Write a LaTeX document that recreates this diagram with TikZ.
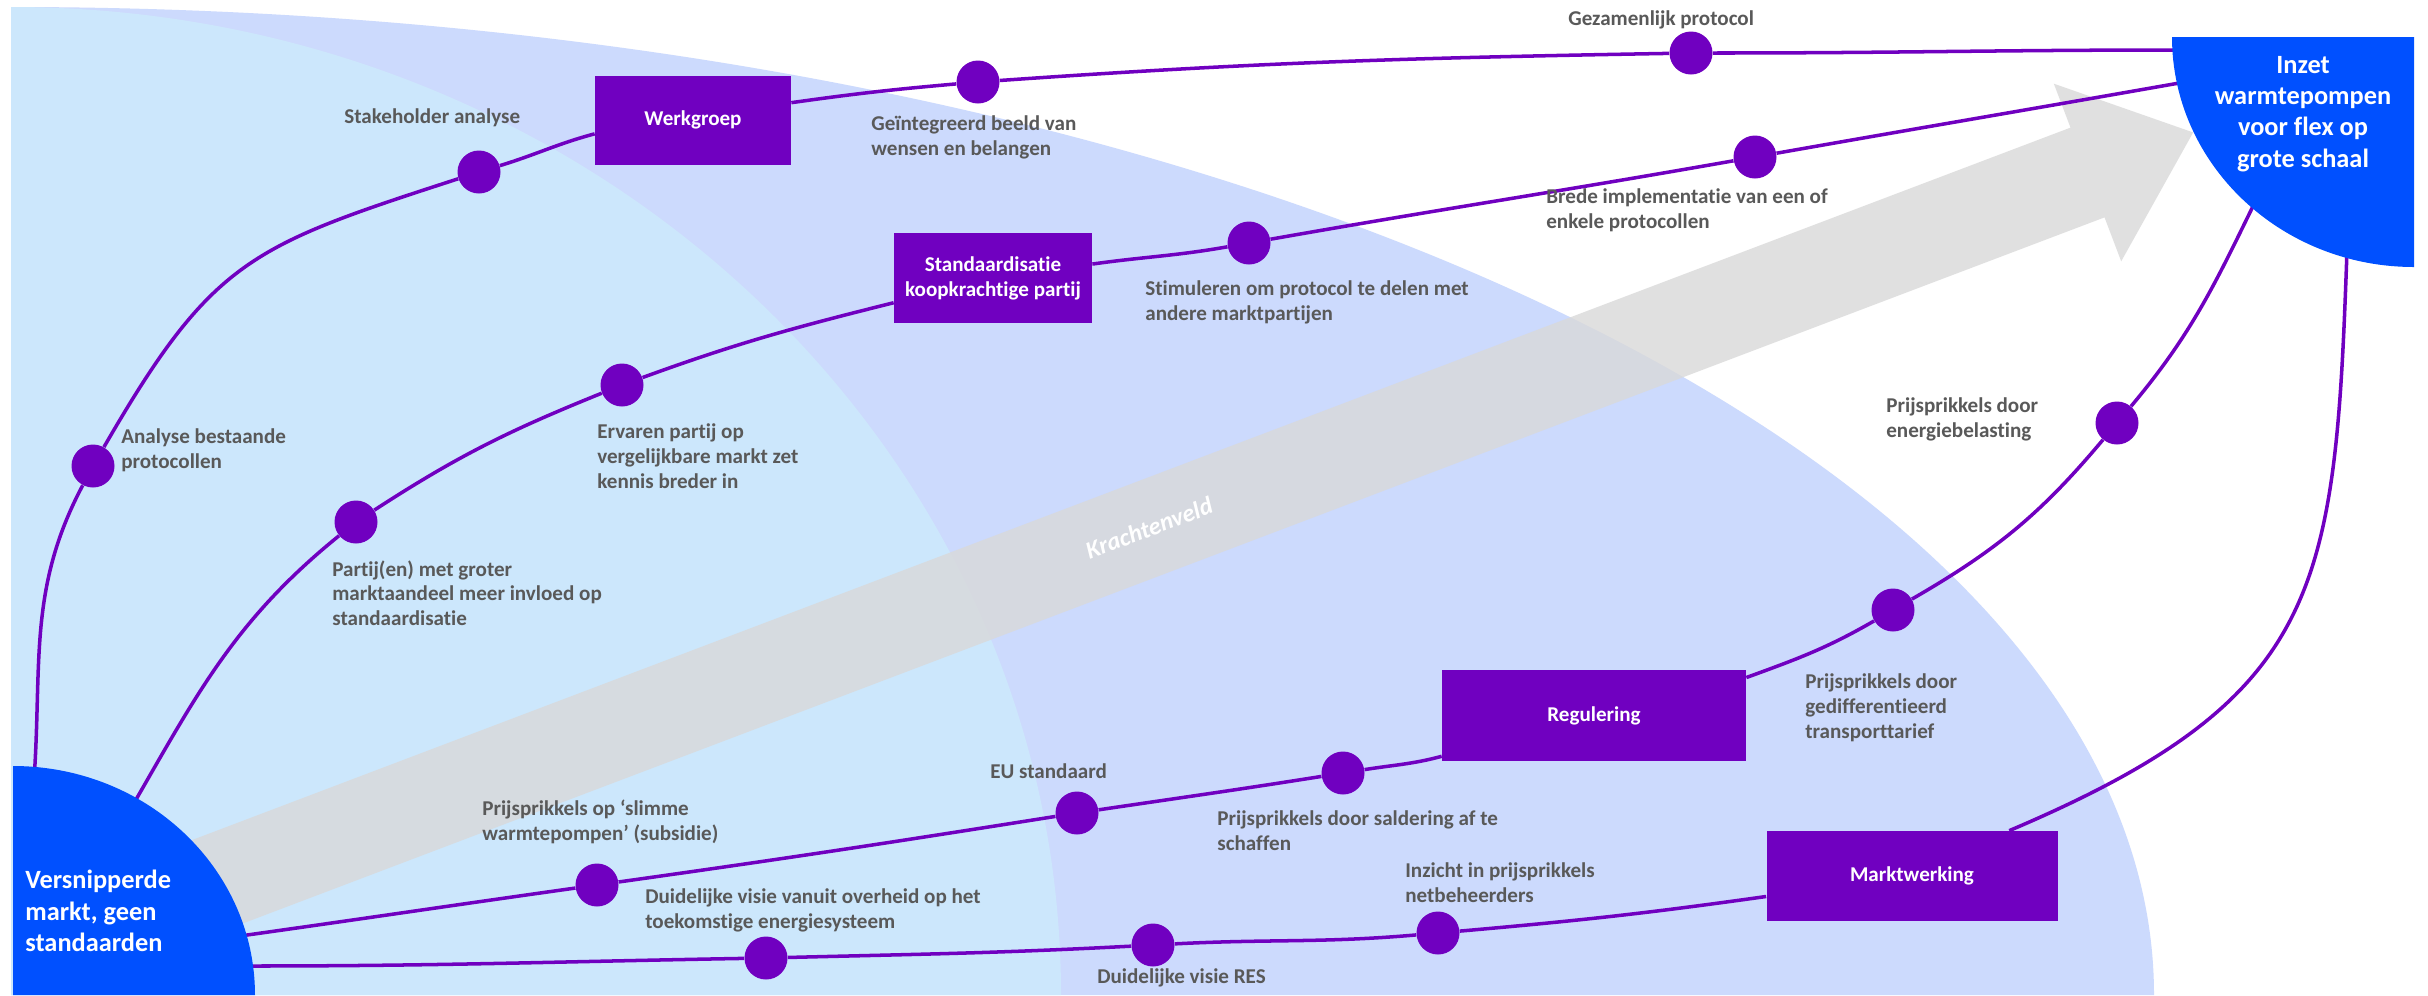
\documentclass[tikz,border=0pt]{standalone}
\usepackage{fontspec}
\setmainfont{Carlito}[Ligatures = NoCommon]
\newcommand\uitlegfont{\fontsize{12}{14.2}\selectfont\bfseries}
\newcommand\doelfont{\fontsize{15}{17.8}\selectfont\bfseries}
\tikzset{
  route/.style = {draw = paars, line width = 2pt},
  halte/.style = {circle, fill = paars, inner sep = 0, minimum size = 43*\px},
  blok/.style = {rectangle, fill = paars, text = white, font = \uitlegfont, align = center, inner sep = 0},
  uitleg/.style = {anchor = north west, inner sep = 0, align = left, text = tekstgrijs, font = \uitlegfont},
  doeltekst/.style = {inner sep = 0, align = left, text = white, font = \doelfont}
}
\begin{document}
\begin{tikzpicture}[x = 0.02cm, y = 0.02cm]
\pgfmathsetlengthmacro\px{0.02cm};
\definecolor{lichtblauw}{HTML}{CCE7FC}
\definecolor{lavendel}{HTML}{CCDAFD}
\definecolor{pijlgrijs}{HTML}{D9D9D9}
\definecolor{paars}{HTML}{7000C0}
\definecolor{doelblauw}{HTML}{0050FF}
\definecolor{tekstgrijs}{HTML}{595959}
\useasboundingbox (0,0) rectangle (2428,-995);
\fill[white] (0,0) rectangle (2428,-995);
% velden
\fill[lavendel] (11,-995) -- (11,-7) arc[start angle = 90, end angle = 0, x radius = 2143, y radius = 988] -- cycle;
\fill[lichtblauw] (11,-995) -- (11,-7) arc[start angle = 90, end angle = 0, x radius = 1050, y radius = 988] -- cycle;
% krachtenveld
\begin{scope}[shift = {(2087.5,-172.5)}, rotate = 20.77]
\fill[pijlgrijs, opacity = 0.8] (-2150,-48) -- (0,-48) -- (0,-95) -- (113,0) -- (0,95) -- (0,48) -- (-2150,48) -- cycle;
\end{scope}
\node[rotate = 20.8, text = white, font = \fontsize{14}{16}\selectfont\bfseries\itshape] (kracht) at (1149,-528) {Krachtenveld};
% eindpunten op de kwartcirkels
\coordinate (v1) at (34,-780);
\coordinate (v2) at (130,-810);
\coordinate (v3) at (240,-936);
\coordinate (v4) at (245,-966);
\coordinate (i1) at (2180,-50);
\coordinate (i2) at (2185,-82);
\coordinate (i3) at (2256,-200);
\coordinate (i4) at (2347,-250);
% blokken
\node[blok, minimum width = 196*\px, minimum height = 89*\px] (werkgroep) at (693,-120) {Werkgroep};
\node[blok, minimum width = 198*\px, minimum height = 90*\px] (stand) at (993,-278) {Standaardisatie\\koopkrachtige partij};
\node[blok, minimum width = 304*\px, minimum height = 91*\px] (regulering) at (1594,-715.5) {Regulering};
\node[blok, minimum width = 291*\px, minimum height = 90*\px] (markt) at (1912,-876) {Marktwerking};
% haltes
\foreach \naam/\x/\y in {ana/93/-466, stake/479/-172, gei/978/-82, gez/1691/-53, par/356/-522, erv/622/-385, sti/1249/-243, bre/1755/-157, sli/597/-885, eu/1077/-813, sal/1343/-773, tra/1893/-610, ene/2117/-423, vis/766/-958, res/1153/-945, inz/1438/-933}
  \node[halte] (h-\naam) at (\x,\y) {};
% routes
\draw[route] (v1) to[out = 86, in = 242] (h-ana)
  to[out = 60, in = 198, looseness = 1.25] (h-stake)
  to[out = 17, in = 195] (werkgroep.188)
  (werkgroep.10) to[out = 8, in = 185] (h-gei)
  to[out = 4, in = 181] (h-gez)
  to[out = 0, in = 180] (i1);
\draw[route] (v2) to[out = 60, in = 219] (h-par)
  to[out = 33, in = 202] (h-erv)
  to[out = 20, in = 194] (stand)
  to[out = 8, in = 190] (h-sti)
  to[out = 10, in = 190] (h-bre)
  to[out = 10, in = 190] (i2);
\draw[route] (v3) to[out = 8, in = 188] (h-sli)
  to[out = 8, in = 189] (h-eu)
  to[out = 8.5, in = 189] (h-sal)
  to[out = 9, in = 195] (regulering)
  (regulering.14) to[out = 20, in = 210] (h-tra)
  to[out = 30, in = 230] (h-ene)
  to[out = 50, in = 244] (i3);
\draw[route] (v4) to[out = 0, in = 181] (h-vis)
  to[out = 1.5, in = 183] (h-res)
  to[out = 3, in = 185] (h-inz)
  to[out = 5, in = 188] (markt)
  (markt.25) to[out = 23, in = 268, looseness = 1.3] (i4);
% begin en doel
\fill[doelblauw] (13,-995) -- (13,-766) arc[start angle = 90, end angle = 0, x radius = 242, y radius = 229] -- cycle;
\fill[doelblauw] (2414,-37) -- (2172,-37) arc[start angle = 180, end angle = 270, x radius = 242, y radius = 230] -- cycle;
\node[doeltekst, anchor = north west] (start) at (25,-870) {Versnipperde\\markt, geen\\standaarden};
\node[doeltekst, anchor = north, align = center] (doel) at (2303,-56) {Inzet\\warmtepompen\\voor flex op\\grote schaal};
% uitleg bij de haltes
\node[uitleg] (u-stake) at (344,-108) {Stakeholder analyse};
\node[uitleg] (u-ana) at (121,-428) {Analyse bestaande\\protocollen};
\node[uitleg] (u-erv) at (597,-423) {Ervaren partij op\\vergelijkbare markt zet\\kennis breder in};
\node[uitleg] (u-gei) at (871,-115) {Geïntegreerd beeld van\\wensen en belangen};
\node[uitleg] (u-sti) at (1145,-280) {Stimuleren om protocol te delen met\\andere marktpartijen};
\node[uitleg] (u-gez) at (1568,-10) {Gezamenlijk protocol};
\node[uitleg] (u-bre) at (1546,-188) {Brede implementatie van een of\\enkele protocollen};
\node[uitleg] (u-ene) at (1886,-397) {Prijsprikkels door\\energiebelasting};
\node[uitleg] (u-par) at (332,-560) {Partij(en) met groter\\marktaandeel meer invloed op\\standaardisatie};
\node[uitleg] (u-sli) at (482,-800) {Prijsprikkels op ‘slimme\\warmtepompen’ (subsidie)};
\node[uitleg] (u-vis) at (645,-888) {Duidelijke visie vanuit overheid op het\\toekomstige energiesysteem};
\node[uitleg] (u-eu) at (990,-763) {EU standaard};
\node[uitleg] (u-sal) at (1217,-810) {Prijsprikkels door saldering af te\\schaffen};
\node[uitleg] (u-inz) at (1405,-862) {Inzicht in prijsprikkels\\netbeheerders};
\node[uitleg] (u-res) at (1097,-968) {Duidelijke visie RES};
\node[uitleg] (u-tra) at (1805,-673) {Prijsprikkels door\\gedifferentieerd\\transporttarief};
\end{tikzpicture}
\end{document}
